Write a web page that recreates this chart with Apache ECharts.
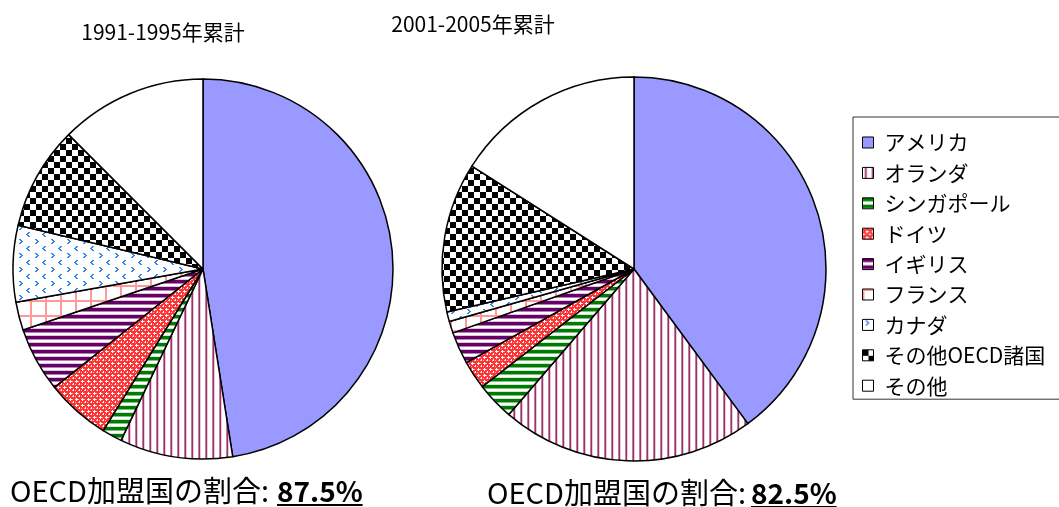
<!DOCTYPE html>
<html>
<head>
<meta charset="utf-8">
<script src="https://cdn.jsdelivr.net/npm/echarts@6/dist/echarts.min.js"></script>
<style>
body{margin:0;background:#fff;}
#main{width:1059px;height:507px;}
</style>
</head>
<body>
<div id="main"></div>
<script>
// 国別シェア（%）
var names = ['アメリカ','オランダ','シンガポール','ドイツ','イギリス','フランス','カナダ','その他OECD諸国','その他'];
var vals1991 = [47.5, 9.6, 1.7, 5.5, 5.5, 2.4, 6.5, 8.8, 12.5];
var vals2001 = [39.9, 21.4, 3.2, 2.4, 2.7, 1.0, 0.8, 12.6, 16.0];
var titles = ['1991-1995年累計', '2001-2005年累計'];
var oecdLabel = 'OECD加盟国の割合:';
var oecdShare = ['87.5%', '82.5%'];

var FONT = '"Noto Sans CJK JP", "Noto Sans", sans-serif';

// 小さいcanvasで塗りパターンを作る
function tile(w, h, draw){
	var c = document.createElement('canvas');
	c.width = w; c.height = h;
	var ctx = c.getContext('2d');
	ctx.fillStyle = '#fff';
	ctx.fillRect(0, 0, w, h);
	draw(ctx);
	return {image: c, repeat: 'repeat'};
}
function px(ctx, color, list){
	ctx.fillStyle = color;
	for(var i=0;i<list.length;i++){
		ctx.fillRect(list[i][0], list[i][1], list[i][2] || 1, list[i][3] || 1);
	}
}

var fills = [
	'#9999ff',
	tile(7, 1, function(ctx){      // 縦じま
		px(ctx, '#c27a9e', [[2,0]]);
		px(ctx, '#993366', [[3,0]]);
		px(ctx, '#e8c8da', [[4,0]]);
	}),
	tile(1, 7, function(ctx){      // 緑横じま
		px(ctx, '#007a00', [[0,0,1,3]]);
		px(ctx, '#7fbf7f', [[0,3]]);
		px(ctx, '#cfe8cf', [[0,6]]);
	}),
	tile(6, 6, function(ctx){      // 赤格子
		px(ctx, '#ff3333', [[0,0,6,6]]);
		px(ctx, '#ffb3b3', [[0,0],[3,0],[0,3]]);
		px(ctx, '#ffffff', [[4,2],[3,3],[4,3],[5,3],[4,4],[1,5],[1,0]]);
	}),
	tile(1, 7, function(ctx){      // 紫横じま
		px(ctx, '#660066', [[0,0,1,3]]);
		px(ctx, '#b380b3', [[0,3]]);
		px(ctx, '#dcc4dc', [[0,6]]);
	}),
	tile(15, 15, function(ctx){    // ピンク格子
		px(ctx, '#ff9999', [[0,0,15,2],[0,0,2,15]]);
	}),
	tile(16, 14, function(ctx){    // 青い山形
		px(ctx, '#2f86e8', [[3,1,2,1],[4,2,2,1],[5,3,2,1],[4,4,2,1],[3,5,2,1],
			[12,8,2,1],[11,9,2,1],[10,10,2,1],[11,11,2,1],[12,12,2,1]]);
	}),
	tile(12, 12, function(ctx){    // 市松
		px(ctx, '#000', [[0,0,6,6],[6,6,6,6]]);
	}),
	'#ffffff'
];

function pieSeries(center, r, vals){
	return {
		type: 'pie',
		center: center,
		radius: r,
		startAngle: 90,
		clockwise: true,
		silent: true,
		label: {show: false},
		labelLine: {show: false},
		itemStyle: {borderColor: '#000', borderWidth: 1.5},
		data: names.map(function(n, i){
			return {name: n, value: vals[i], itemStyle: {color: fills[i]}};
		})
	};
}

// 下線の長さを測る
var mctx = document.createElement('canvas').getContext('2d');
function textW(str, font){
	mctx.font = font;
	return mctx.measureText(str).width;
}

var graphics = [];
var titlePos = [[163, 32], [473, 24]];
titles.forEach(function(t, i){
	graphics.push({type: 'text', x: titlePos[i][0], y: titlePos[i][1], silent: true,
		style: {text: t, fontSize: 21, fontFamily: FONT, fill: '#000', align: 'center', verticalAlign: 'middle'}});
});
var labelX = [10, 487], numX = [277, 751], labelY = [491, 493];
oecdShare.forEach(function(s, i){
	graphics.push({type: 'text', x: labelX[i], y: labelY[i], silent: true,
		style: {text: oecdLabel, fontSize: 29, fontFamily: FONT, fill: '#000', align: 'left', verticalAlign: 'middle'}});
	graphics.push({type: 'text', x: numX[i], y: labelY[i], silent: true,
		style: {text: s, fontSize: 28, fontWeight: 'bold', fontFamily: FONT, fill: '#000', align: 'left', verticalAlign: 'middle'}});
	var w = textW(s, 'bold 28px ' + FONT);
	graphics.push({type: 'line', silent: true,
		shape: {x1: numX[i], y1: labelY[i] + 14, x2: numX[i] + w, y2: labelY[i] + 14},
		style: {stroke: '#000', lineWidth: 2}});
});

var myChart = echarts.init(document.getElementById('main'));
myChart.setOption({
	animation: false,
	backgroundColor: '#fff',
	legend: {
		orient: 'vertical',
		left: 853,
		top: 117,
		data: names,
		icon: 'rect',
		itemWidth: 11,
		itemHeight: 11,
		itemGap: 9.4,
		padding: [15, 60, 3, 9],
		borderColor: '#333',
		borderWidth: 1,
		selectedMode: false,
		itemStyle: {borderColor: '#000', borderWidth: 1},
		textStyle: {fontSize: 21, fontFamily: FONT, color: '#000', lineHeight: 20, padding: [0, 0, 0, 6]}
	},
	graphic: graphics,
	series: [
		pieSeries([203, 269], 190, vals1991),
		pieSeries([634, 269], 192, vals2001)
	]
});
</script>
</body>
</html>
